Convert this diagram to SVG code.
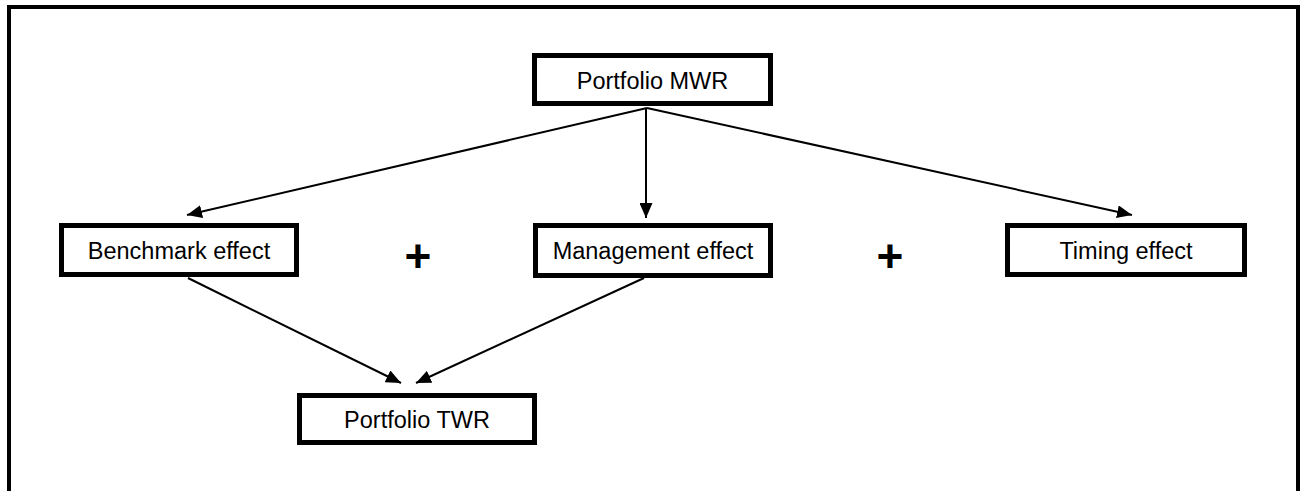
<svg xmlns="http://www.w3.org/2000/svg" width="1301" height="491" viewBox="0 0 1301 491">
  <style>
    .frame { fill: none; stroke: #000; stroke-width: 4; }
    .box { fill: #fff; stroke: #000; stroke-width: 5; }
    .label { font-family: "Liberation Sans", Arial, sans-serif; font-size: 23.5px; fill: #000; text-anchor: middle; }
    .plus { font-family: "Liberation Sans", Arial, sans-serif; font-size: 46px; font-weight: bold; fill: #000; text-anchor: middle; }
    .link { fill: none; stroke: #000; stroke-width: 2; }
  </style>
  <defs>
    <marker id="arrow" markerUnits="userSpaceOnUse" markerWidth="15" markerHeight="13" refX="15" refY="6.5" orient="auto">
      <path d="M0,0 L15,6.5 L0,13 z" fill="#000"/>
    </marker>
  </defs>

  <rect width="1301" height="491" fill="#fff"/>
  <!-- outer frame, open at the bottom edge -->
  <rect class="frame" x="9" y="7" width="1289" height="500"/>

  <g id="connectors">
    <line class="link" x1="647" y1="108" x2="187" y2="215" marker-end="url(#arrow)"/>
    <line class="link" x1="646" y1="108" x2="646" y2="218" marker-end="url(#arrow)"/>
    <line class="link" x1="647" y1="108" x2="1132" y2="215" marker-end="url(#arrow)"/>
    <line class="link" x1="188" y1="278" x2="401" y2="383" marker-end="url(#arrow)"/>
    <line class="link" x1="644" y1="278" x2="416" y2="383" marker-end="url(#arrow)"/>
  </g>

  <g id="portfolio-mwr">
    <rect class="box" x="534.5" y="55.5" width="236" height="48"/>
    <text class="label" x="652.5" y="88.5">Portfolio MWR</text>
  </g>
  <g id="benchmark-effect">
    <rect class="box" x="61.5" y="225.5" width="235" height="49"/>
    <text class="label" x="179" y="259">Benchmark effect</text>
  </g>
  <g id="management-effect">
    <rect class="box" x="535.5" y="225.5" width="235" height="50"/>
    <text class="label" x="653" y="259">Management effect</text>
  </g>
  <g id="timing-effect">
    <rect class="box" x="1007.5" y="225.5" width="237" height="49"/>
    <text class="label" x="1126" y="259">Timing effect</text>
  </g>
  <g id="portfolio-twr">
    <rect class="box" x="299.5" y="395.5" width="235" height="47"/>
    <text class="label" x="417" y="427.5">Portfolio TWR</text>
  </g>

  <g id="operators">
    <text class="plus" x="418" y="272">+</text>
    <text class="plus" x="890" y="272">+</text>
  </g>
</svg>
